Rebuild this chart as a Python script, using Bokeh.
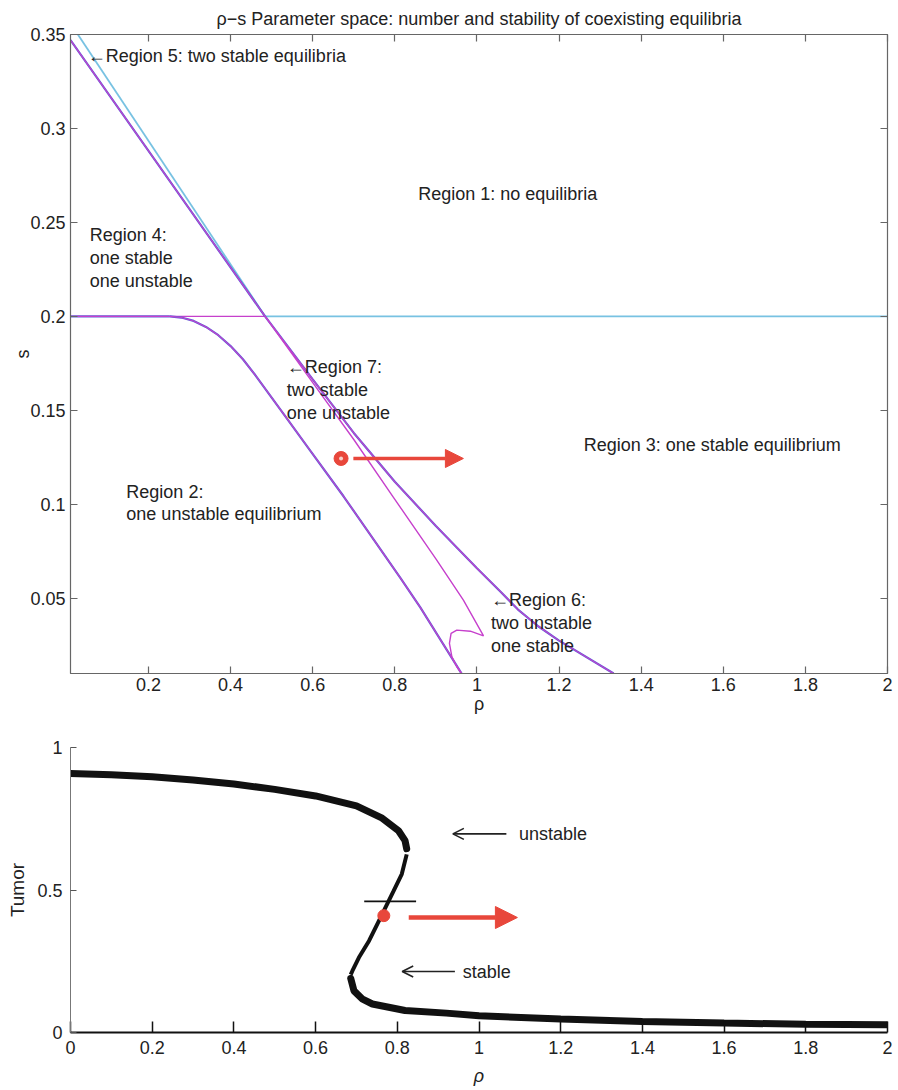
from bokeh.plotting import figure
from bokeh.models import LinearAxis, FixedTicker, Arrow, NormalHead, OpenHead, Range1d
from bokeh.layouts import column
from bokeh.embed import file_html
from bokeh.resources import INLINE
from bokeh.core.properties import value

FONT = "Liberation Sans"
BLUE = "#5a62d8"
MAGENTA = "#c640cc"
CYAN = "#78c2e2"
RED = "#e8473b"
AXIS = "#666666"
TXT = "#222222"

TITLE = "\u03c1\u2212s Parameter space: number and stability of coexisting equilibria"

# ---------------- top panel data (rho - s parameter space) ----------------
s_fold = 0.2
rho_start = 0.01
rho_fold_left = 0.252
rho_cross = 0.484
rho_end = 2.0

cyan_diag_rho = [0.028, 0.484]
cyan_diag_s = [0.35, 0.2]

outer_rho = [0.01, 0.484, 0.60, 0.70, 0.80, 0.90, 1.0, 1.06, 1.10, 1.15, 1.20, 1.333]
outer_s = [0.347, 0.200, 0.1665, 0.138, 0.112, 0.0885, 0.066, 0.053, 0.044, 0.035, 0.0275, 0.010]

inner_rho = [0.484, 0.60, 0.70, 0.797, 0.90, 0.967, 1.016, 0.984, 0.951, 0.937, 0.933, 0.939, 0.951, 0.963]
inner_s = [0.200, 0.1648, 0.1345, 0.1036, 0.071, 0.049, 0.030, 0.0325, 0.0331, 0.0313, 0.026, 0.0189, 0.0136, 0.0098]

lower_rho = [0.252, 0.28, 0.31, 0.34, 0.37, 0.40, 0.43, 0.46, 0.528, 0.593, 0.675, 0.813, 0.862, 0.963]
lower_s = [0.200, 0.1994, 0.1976, 0.1944, 0.190, 0.1842, 0.1772, 0.1688, 0.1484, 0.1289, 0.1043, 0.061, 0.0452, 0.0098]

region_text = [
    "\u2190Region 5: two stable equilibria",
    "Region 1: no equilibria",
    "Region 4:\none stable\none unstable",
    "\u2190Region 7:\ntwo stable\none unstable",
    "Region 3: one stable equilibrium",
    "Region 2:\none unstable equilibrium",
    "\u2190Region 6:\ntwo unstable\none stable",
]
region_x = [0.052, 0.857, 0.057, 0.537, 1.26, 0.146, 1.034]
region_y = [0.3385, 0.265, 0.231, 0.161, 0.1318, 0.1007, 0.0369]

top_dot_rho = 0.669
top_dot_s = 0.1244
top_arrow_rho = [0.699, 0.967]

top_xticks = [0.2, 0.4, 0.6, 0.8, 1.0, 1.2, 1.4, 1.6, 1.8, 2.0]
top_xlabels = ["0.2", "0.4", "0.6", "0.8", "1", "1.2", "1.4", "1.6", "1.8", "2"]
top_yticks = [0.05, 0.1, 0.15, 0.2, 0.25, 0.3, 0.35]
top_ylabels = ["0.05", "0.1", "0.15", "0.2", "0.25", "0.3", "0.35"]

# ---------------- bottom panel data (bifurcation curve) ----------------
upper_rho = [0.0, 0.1, 0.2, 0.3, 0.4, 0.5, 0.6, 0.7, 0.763, 0.803, 0.819, 0.823]
upper_T = [0.909, 0.904, 0.897, 0.886, 0.872, 0.853, 0.830, 0.795, 0.752, 0.708, 0.673, 0.645]
middle_rho = [0.823, 0.811, 0.791, 0.779, 0.755, 0.731, 0.706, 0.690, 0.686]
middle_T = [0.625, 0.556, 0.497, 0.462, 0.392, 0.322, 0.263, 0.216, 0.203]
lowbr_rho = [0.686, 0.694, 0.715, 0.739, 0.819, 0.92, 1.0, 1.2, 1.4, 1.6, 1.8, 2.0]
lowbr_T = [0.190, 0.146, 0.117, 0.100, 0.077, 0.068, 0.059, 0.047, 0.039, 0.033, 0.029, 0.027]

bar_rho = [0.719, 0.846]
bar_T = 0.46
bot_dot_rho = 0.767
bot_dot_T = 0.41
bot_arrow_rho = [0.828, 1.094]
bot_arrow_T = 0.4035

note_text = ["unstable", "stable"]
note_x = [1.098, 0.96]
note_y = [0.697, 0.214]
note_arrow_tail = [1.067, 0.941]
note_arrow_tip = [0.936, 0.812]

bot_xticks = [0, 0.2, 0.4, 0.6, 0.8, 1.0, 1.2, 1.4, 1.6, 1.8, 2.0]
bot_xlabels = ["0", "0.2", "0.4", "0.6", "0.8", "1", "1.2", "1.4", "1.6", "1.8", "2"]
bot_yticks = [0, 0.5, 1.0]
bot_ylabels = ["0", "0.5", "1"]

# ======================= top figure =======================
p1 = figure(width=898, height=716, output_backend="svg", toolbar_location=None,
            x_range=Range1d(0.01, 2.0), y_range=Range1d(0.01, 0.35),
            min_border_left=70, min_border_right=11, min_border_top=34, min_border_bottom=39)
p1.grid.visible = False
p1.outline_line_color = AXIS
p1.background_fill_color = "white"
p1.border_fill_color = "white"

p1.title.text = TITLE
p1.title.align = "center"
p1.title.text_font = FONT
p1.title.text_font_size = "18px"
p1.title.text_font_style = "normal"
p1.title.text_color = TXT
p1.title.standoff = 8
p1.title.vertical_align = "top"

def style_axis(ax, ticks, labels, show):
    ax.ticker = FixedTicker(ticks=ticks)
    ax.major_tick_in = 7
    ax.major_tick_out = 0
    ax.minor_tick_line_color = None
    ax.axis_line_color = AXIS
    ax.major_tick_line_color = AXIS
    ax.major_tick_line_width = 1.2
    ax.axis_line_width = 1.2
    if show:
        ax.major_label_overrides = {t: l for t, l in zip(ticks, labels)}
        ax.major_label_text_font = FONT
        ax.major_label_text_font_size = "18px"
        ax.major_label_text_color = TXT
    else:
        ax.major_label_text_font_size = "0px"
        ax.major_label_text_color = None
        ax.major_label_standoff = 0

style_axis(p1.xaxis[0], top_xticks, top_xlabels, True)
style_axis(p1.yaxis[0], top_yticks, top_ylabels, True)
p1.xaxis[0].major_label_standoff = 4
p1.yaxis[0].major_label_standoff = 5
p1.xaxis[0].axis_label = "\u03c1"
p1.yaxis[0].axis_label = "s"
for ax in (p1.xaxis[0], p1.yaxis[0]):
    ax.axis_label_text_font = FONT
    ax.axis_label_text_font_size = "18px"
    ax.axis_label_text_font_style = "normal"
    ax.axis_label_text_color = TXT
p1.xaxis[0].axis_label_standoff = 0
p1.yaxis[0].axis_label_standoff = -6

ax_top = LinearAxis()
style_axis(ax_top, top_xticks, top_xlabels, False)
p1.add_layout(ax_top, "above")
ax_right = LinearAxis()
style_axis(ax_right, top_yticks, top_ylabels, False)
p1.add_layout(ax_right, "right")

# lines
p1.line([rho_cross, rho_end], [s_fold, s_fold], line_color=CYAN, line_width=1.6)
p1.line(cyan_diag_rho, cyan_diag_s, line_color=CYAN, line_width=1.8)
p1.line([rho_fold_left, rho_cross], [s_fold, s_fold], line_color=MAGENTA, line_width=1.3)
for xs, ys in ((outer_rho, outer_s), (lower_rho, lower_s), ([rho_start, rho_fold_left], [s_fold, s_fold])):
    p1.line(xs, ys, line_color=BLUE, line_width=2.2)
    p1.line(xs, ys, line_color=MAGENTA, line_width=1.1)
p1.line(inner_rho, inner_s, line_color=MAGENTA, line_width=1.4)

p1.text(x=region_x, y=region_y, text=region_text, text_font=value(FONT), text_font_size="18px",
        text_color=TXT, text_baseline="middle", text_align="left", text_line_height=1.14)

# red marker and arrow
p1.add_layout(Arrow(end=NormalHead(size=18, fill_color=RED, line_color=RED),
                    x_start=top_arrow_rho[0], y_start=top_dot_s,
                    x_end=top_arrow_rho[1], y_end=top_dot_s,
                    line_color=RED, line_width=3.5))
p1.scatter([top_dot_rho], [top_dot_s], size=14, fill_color=RED, line_color=RED)
p1.scatter([top_dot_rho], [top_dot_s], size=4, fill_color="#f7d0c8", line_color=None)

# ======================= bottom figure =======================
p2 = figure(width=898, height=374, output_backend="svg", toolbar_location=None,
            x_range=Range1d(0, 2.0), y_range=Range1d(0, 1.0),
            min_border_left=61, min_border_right=10, min_border_top=31, min_border_bottom=58)
p2.grid.visible = False
p2.outline_line_color = None
p2.background_fill_color = "white"
p2.border_fill_color = "white"

xa = p2.xaxis[0]
xa.ticker = FixedTicker(ticks=bot_xticks)
xa.major_label_overrides = {t: l for t, l in zip(bot_xticks, bot_xlabels)}
xa.major_tick_in = 11
xa.major_tick_out = 0
xa.minor_tick_line_color = None
xa.axis_line_color = "#111111"
xa.axis_line_width = 2
xa.major_tick_line_color = "#111111"
xa.major_tick_line_width = 1.5
xa.major_label_standoff = 8
xa.major_label_text_font = FONT
xa.major_label_text_font_size = "18px"
xa.major_label_text_color = TXT
xa.axis_label = "\u03c1"
xa.axis_label_text_font = FONT
xa.axis_label_text_font_size = "18px"
xa.axis_label_text_font_style = "italic"
xa.axis_label_text_color = TXT
xa.axis_label_standoff = 9

ya = p2.yaxis[0]
ya.ticker = FixedTicker(ticks=bot_yticks)
ya.major_label_overrides = {t: l for t, l in zip(bot_yticks, bot_ylabels)}
ya.major_tick_in = 6
ya.major_tick_out = 0
ya.minor_tick_line_color = None
ya.axis_line_color = "#777777"
ya.axis_line_width = 1
ya.major_tick_line_color = "#555555"
ya.major_label_standoff = 8
ya.major_label_text_font = FONT
ya.major_label_text_font_size = "18px"
ya.major_label_text_color = TXT
ya.axis_label = "Tumor"
ya.axis_label_text_font = FONT
ya.axis_label_text_font_size = "19px"
ya.axis_label_text_font_style = "normal"
ya.axis_label_text_color = TXT
ya.axis_label_standoff = 6

p2.line(upper_rho, upper_T, line_color="#111111", line_width=7, line_cap="round")
p2.line(middle_rho, middle_T, line_color="#111111", line_width=4)
p2.line(lowbr_rho, lowbr_T, line_color="#111111", line_width=7, line_cap="round")

p2.line(bar_rho, [bar_T, bar_T], line_color="#111111", line_width=1.8)

for tail, tip, yy in zip(note_arrow_tail, note_arrow_tip, note_y):
    p2.add_layout(Arrow(end=OpenHead(size=11, line_color="#222222", line_width=1.6),
                        x_start=tail, y_start=yy, x_end=tip, y_end=yy,
                        line_color="#222222", line_width=1.6))
p2.text(x=note_x, y=note_y, text=note_text, text_font=value(FONT), text_font_size="18px",
        text_color=TXT, text_baseline="middle", text_align="left")

p2.add_layout(Arrow(end=NormalHead(size=22, fill_color=RED, line_color=RED),
                    x_start=bot_arrow_rho[0], y_start=bot_arrow_T,
                    x_end=bot_arrow_rho[1], y_end=bot_arrow_T,
                    line_color=RED, line_width=4.5))
p2.scatter([bot_dot_rho], [bot_dot_T], size=12, fill_color=RED, line_color=RED)

layout = column(p1, p2)
open("out.html", "w").write(file_html(layout, INLINE))
